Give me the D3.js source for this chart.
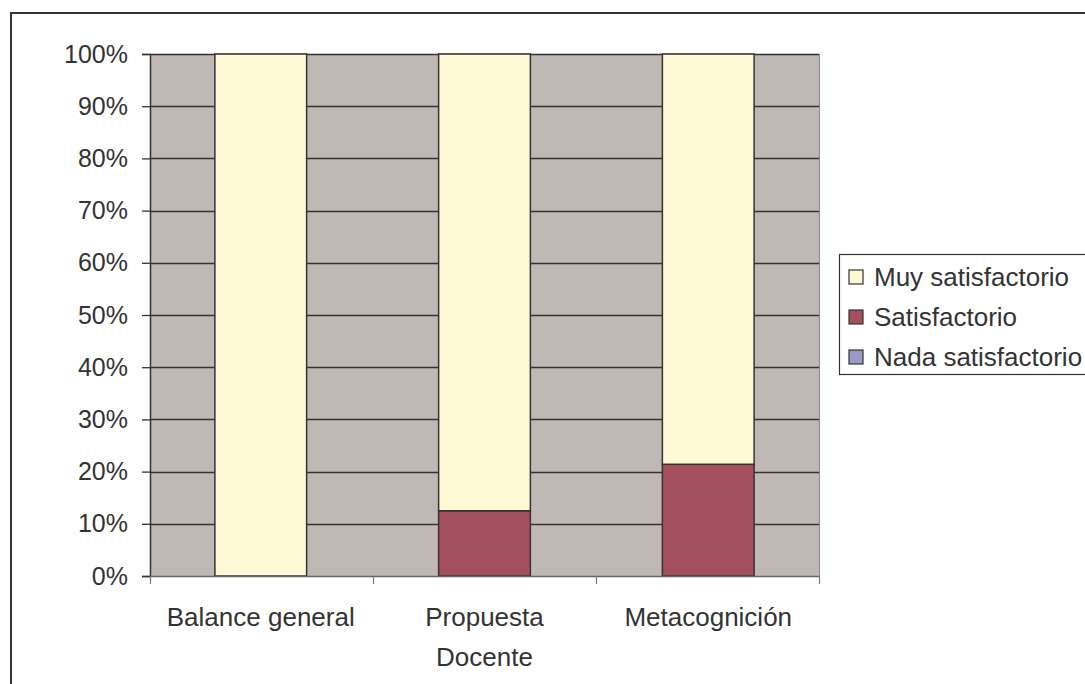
<!DOCTYPE html>
<html><head><meta charset="utf-8">
<script src="https://cdn.jsdelivr.net/npm/d3@7"></script>
<style>body{margin:0;background:#fff}svg{display:block}text{font-family:"Liberation Sans",Arial,sans-serif;fill:#333}</style>
</head><body><svg id="c" width="1085" height="684"></svg>
<script>
const categories = [["Balance general"], ["Propuesta", "Docente"], ["Metacognición"]];
const seriesNames = ["Nada satisfactorio", "Satisfactorio", "Muy satisfactorio"];
const nada = [0, 0, 0];
const satisf = [0, 0.125, 0.214];
const muy = [1, 0.875, 0.786];
const colors = ["#9C98C8", "#A5505F", "#FFF9D6"];
const yTicks = [0, 0.1, 0.2, 0.3, 0.4, 0.5, 0.6, 0.7, 0.8, 0.9, 1];

const svg = d3.select("#c");
svg.append("rect").attr("x", 11).attr("y", 13).attr("width", 1200).attr("height", 800)
  .attr("fill", "none").attr("stroke", "#333").attr("stroke-width", 2);

const L = 150, R = 819, T = 54, B = 576;
const x = d3.scaleBand().domain(d3.range(categories.length)).range([L, R]).paddingInner(0.59).paddingOuter(0.29);
const y = d3.scaleLinear().domain([0, 1]).range([B, T]);

svg.append("rect").attr("x", L).attr("y", T).attr("width", R - L).attr("height", B - T).attr("fill", "#C0B8B5");
svg.append("g").selectAll("line").data(yTicks.slice(1)).join("line")
  .attr("x1", L).attr("x2", R).attr("y1", d => Math.round(y(d)) + 0.5).attr("y2", d => Math.round(y(d)) + 0.5)
  .attr("stroke", "#333").attr("stroke-width", 1.3);
svg.append("line").attr("x1", R + 0.5).attr("x2", R + 0.5).attr("y1", T).attr("y2", B).attr("stroke", "#888");

const data = categories.map((c, i) => ({i, "Nada satisfactorio": nada[i], "Satisfactorio": satisf[i], "Muy satisfactorio": muy[i]}));
const stack = d3.stack().keys(seriesNames)(data);
svg.append("g").selectAll("g").data(stack).join("g").attr("fill", (d, k) => colors[k])
  .selectAll("rect").data(d => d.filter(s => s[1] - s[0] > 0)).join("rect")
  .attr("x", d => x(d.data.i)).attr("width", x.bandwidth())
  .attr("y", d => y(d[1])).attr("height", d => y(d[0]) - y(d[1]))
  .attr("stroke", "#333").attr("stroke-width", 1.5);

// y axis
const ya = svg.append("g").attr("transform", `translate(${L},0)`)
  .call(d3.axisLeft(y).tickValues(yTicks).tickFormat(d3.format(".0%")).tickSize(8).tickPadding(14));
ya.select(".domain").attr("stroke", "#333").attr("stroke-width", 1.5);
ya.selectAll(".tick line").attr("stroke", "#333").attr("stroke-width", 1.3);
ya.selectAll("text").style("font-size", "25px").attr("fill", "#333").attr("font-family", "Liberation Sans, Arial, sans-serif");

// x axis
const xb = d3.scaleLinear().domain([0, categories.length]).range([L, R]);
svg.append("line").attr("x1", L).attr("x2", R).attr("y1", B + 0.5).attr("y2", B + 0.5).attr("stroke", "#666").attr("stroke-width", 1.3);
svg.append("g").selectAll("line").data(d3.range(categories.length + 1)).join("line")
  .attr("x1", d => Math.round(xb(d)) + 0.5).attr("x2", d => Math.round(xb(d)) + 0.5)
  .attr("y1", B).attr("y2", B + 8).attr("stroke", "#777").attr("stroke-width", 1.2);
const xl = svg.append("g").selectAll("text").data(categories).join("text")
  .attr("x", (d, i) => x(i) + x.bandwidth() / 2).attr("y", 626)
  .attr("text-anchor", "middle").style("font-size", "26px");
xl.selectAll("tspan").data(d => d).join("tspan")
  .attr("x", function () { return this.parentNode.getAttribute("x"); })
  .attr("dy", (d, j) => j === 0 ? 0 : 40).text(d => d);

// legend
svg.append("rect").attr("x", 839.5).attr("y", 254.5).attr("width", 260).attr("height", 120)
  .attr("fill", "#fff").attr("stroke", "#333").attr("stroke-width", 1.2);
const legOrder = ["Muy satisfactorio", "Satisfactorio", "Nada satisfactorio"];
const lg = svg.append("g").selectAll("g").data(legOrder).join("g")
  .attr("transform", (d, i) => `translate(849,${270 + i * 40})`);
lg.append("rect").attr("width", 14).attr("height", 14)
  .attr("fill", d => colors[seriesNames.indexOf(d)]).attr("stroke", "#333").attr("stroke-width", 1.2);
lg.append("text").attr("x", 25).attr("y", 16).style("font-size", "26px").text(d => d);
</script></body></html>
